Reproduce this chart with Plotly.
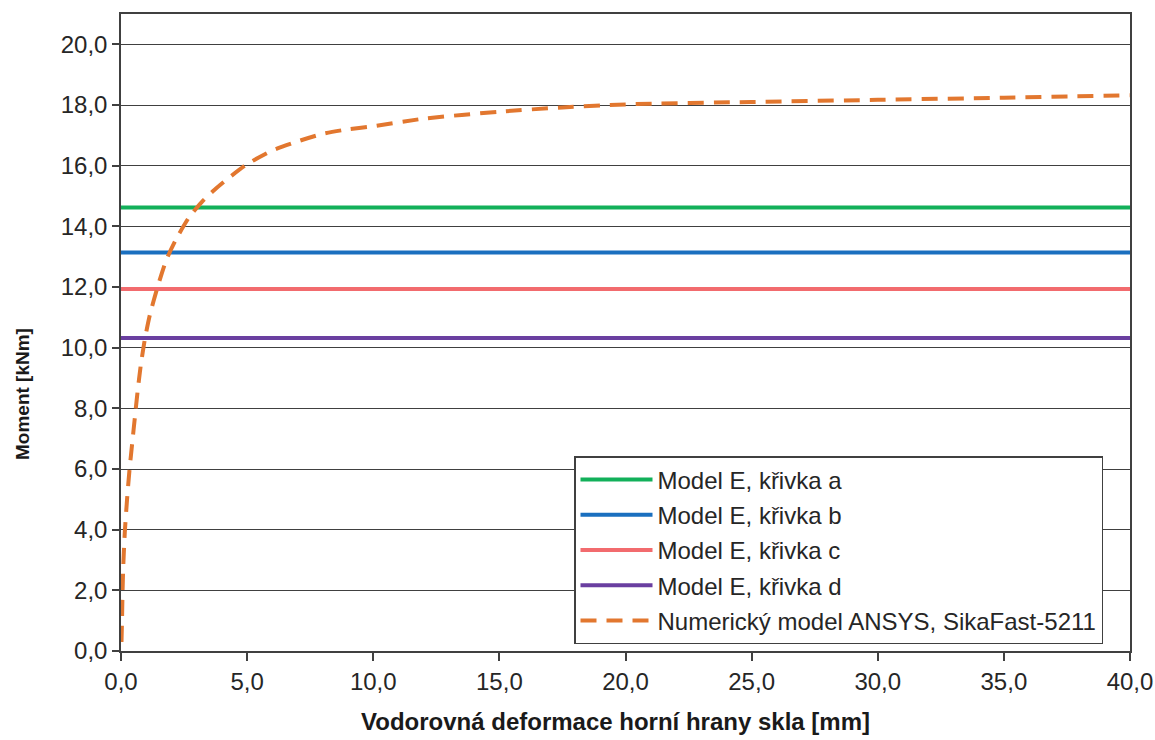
import plotly.graph_objects as go

# Horizontal deformation of the glass top edge [mm] vs. moment [kNm]
x_range = [0.0, 40.0]

model_labels = [
    "Model E, křivka a",
    "Model E, křivka b",
    "Model E, křivka c",
    "Model E, křivka d",
]
model_moments = [14.62, 13.14, 11.93, 10.32]
model_colors = ["#12b05a", "#1a6fbf", "#f26b6e", "#6a3fa0"]

ansys_label = "Numerický model ANSYS, SikaFast-5211"
ansys_x = [0.02, 0.04, 0.06, 0.09, 0.15, 0.24, 0.34, 0.45, 0.55, 0.65, 0.78,
           0.95, 1.15, 1.45, 1.8, 2.2, 2.7, 3.2, 3.7, 4.2, 5.0, 6.0, 7.0,
           8.0, 9.0, 10.0, 12.0, 15.0, 17.5, 20.0, 25.0, 30.0, 35.0, 40.0]
ansys_y = [0.3, 1.0, 1.9, 2.8, 3.9, 5.0, 6.0, 6.9, 7.7, 8.5, 9.4,
           10.3, 11.1, 12.0, 12.9, 13.6, 14.3, 14.8, 15.2, 15.55, 16.05, 16.5, 16.8,
           17.05, 17.2, 17.3, 17.55, 17.78, 17.92, 18.02, 18.1, 18.17, 18.24, 18.32]
ansys_color = "#e2772f"

x_title = "Vodorovná deformace horní hrany skla [mm]"
y_title = "Moment [kNm]"

font_family = "Liberation Sans, Arial, sans-serif"
axis_color = "#404040"
text_color = "#262626"

fig = go.Figure()

for i, (name, m, c) in enumerate(zip(model_labels, model_moments, model_colors)):
    fig.add_trace(go.Scatter(
        x=x_range, y=[m, m], mode="lines", name=name,
        line=dict(color=c, width=4), legendgroup=f"g{i}",
    ))

fig.add_trace(go.Scatter(
    x=ansys_x, y=ansys_y, mode="lines", name=ansys_label,
    line=dict(color=ansys_color, width=4, dash="16px,10px", shape="spline", smoothing=0.6),
    legendgroup="g_ansys",
))

fig.update_layout(
    width=1155, height=740,
    margin=dict(l=121, r=25, t=14, b=89, autoexpand=False),
    paper_bgcolor="white", plot_bgcolor="white",
    separators=", ",
    font=dict(family=font_family, size=24, color=text_color),
    showlegend=True,
    legend=dict(
        x=(574 - 121) / 1009, y=(651 - 456) / 637, xanchor="left", yanchor="top",
        bgcolor="white", bordercolor=axis_color, borderwidth=1.5,
        font=dict(size=24, color=text_color),
        traceorder="grouped", tracegroupgap=1,
        itemwidth=72,
    ),
    xaxis=dict(
        range=x_range, dtick=5, tick0=0, tickformat=".1f",
        showgrid=False, zeroline=False, automargin=False,
        showline=True, linecolor=axis_color, linewidth=1.5, mirror=True,
        ticks="outside", ticklen=8, tickcolor=axis_color, tickwidth=1.5,
        tickfont=dict(size=24, color=text_color),
    ),
    yaxis=dict(
        range=[0, 21], dtick=2, tick0=0, tickformat=".1f",
        showgrid=True, gridcolor=axis_color, gridwidth=1.3, zeroline=False,
        automargin=False,
        showline=True, linecolor=axis_color, linewidth=1.5, mirror=True,
        ticks="outside", ticklen=7, tickcolor=axis_color, tickwidth=1.5,
        tickfont=dict(size=24, color=text_color),
    ),
    annotations=[
        dict(text=f"<b>{x_title}</b>", xref="paper", yref="paper",
             x=(615 - 121) / 1009, y=(651 - 721) / 637,
             xanchor="center", yanchor="middle", showarrow=False,
             font=dict(size=24, color="#1a1a1a")),
        dict(text=f"<b>{y_title}</b>", xref="paper", yref="paper",
             x=(22 - 121) / 1009, y=(651 - 394) / 637,
             xanchor="center", yanchor="middle", showarrow=False, textangle=-90,
             font=dict(size=19, color="#1a1a1a")),
    ],
)

fig.write_html("out.html")
